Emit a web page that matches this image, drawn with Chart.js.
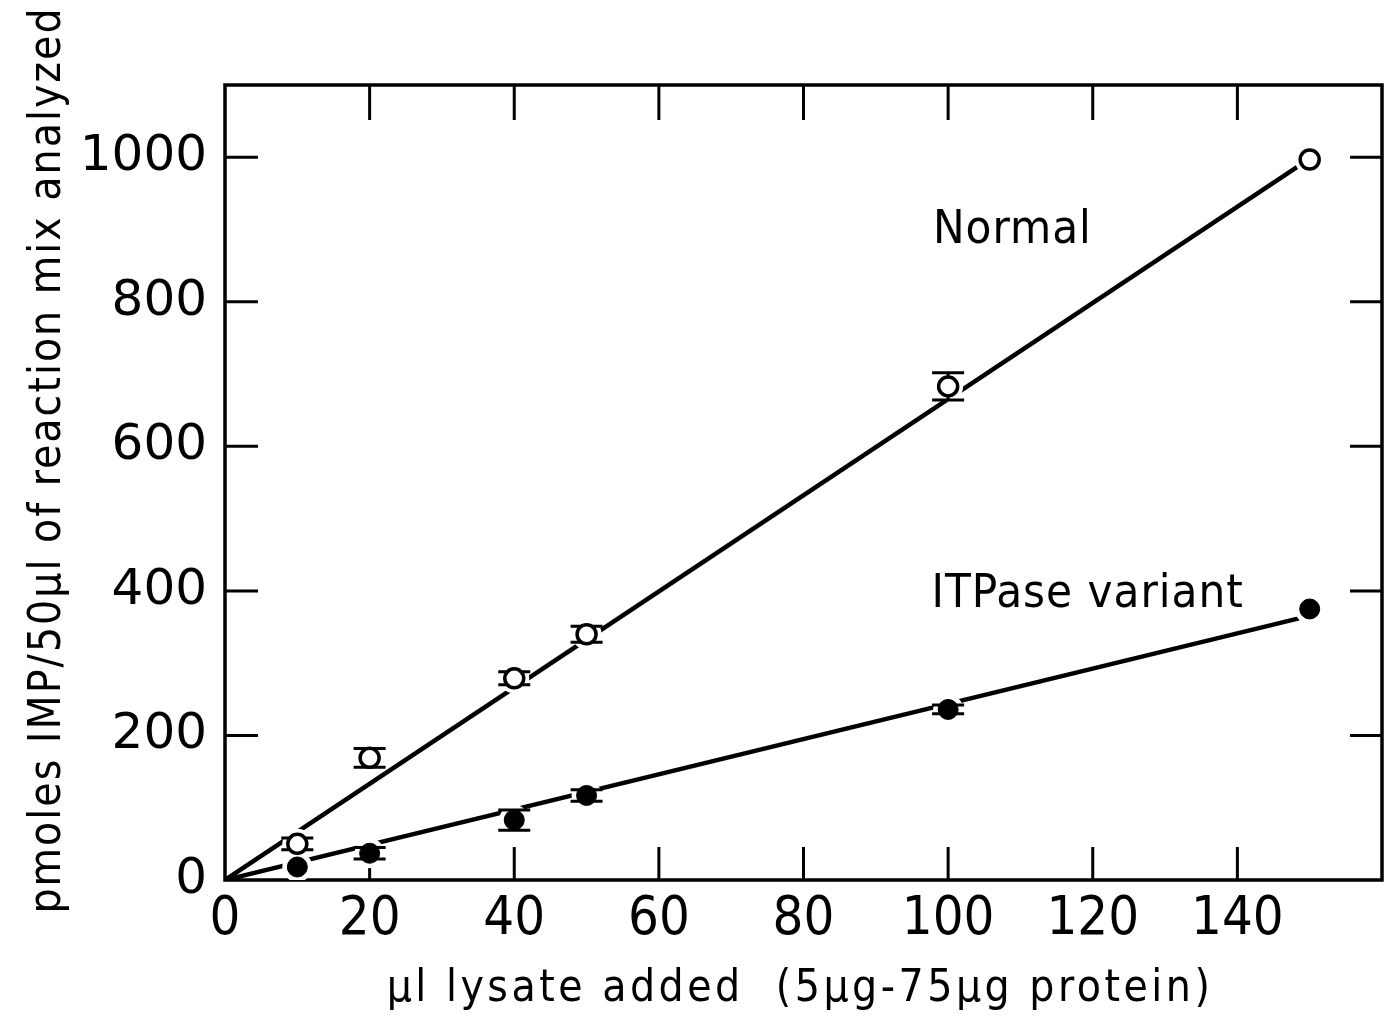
<!DOCTYPE html>
<html lang="en">
<head>
  <meta charset="UTF-8">
  <title>IMP formation vs lysate added</title>
  <script src="https://cdn.jsdelivr.net/npm/chart.js"></script>
  <style>
    html, body { margin: 0; padding: 0; background: #fff; }
    #wrap { width: 1387px; height: 1021px; }
  </style>
</head>
<body>
  <div id="wrap"><canvas id="grafico" width="1387" height="1021"></canvas></div>

  <script>
    // values
    const lysate = [10, 20, 40, 50, 100, 150];
    const normal = [50, 169, 279, 340, 683, 997];
    const normalErr = [8, 13, 9, 11, 19, 0];
    const variant = [18, 37, 83, 117, 236, 375];
    const variantErr = [0, 8, 14, 8, 6, 0];

    // fitted lines (end points)
    const normalFitX = [0, 148.5];
    const normalFitY = [0, 988];
    const variantFitX = [0, 148.5];
    const variantFitY = [0, 362];

    const xTicks = [20, 40, 60, 80, 100, 120, 140];
    const yTicks = [200, 400, 600, 800, 1000];

    const xTitle = '\u03bcl lysate added  (5\u03bcg-75\u03bcg protein)';
    const yTitle = 'pmoles IMP/50\u03bcl of reaction mix analyzed';

    const condensed = '"DejaVu Sans Condensed", "Liberation Sans Narrow", "DejaVu Sans", sans-serif';
    const pts = (xs, ys) => xs.map((x, i) => ({ x: x, y: ys[i] }));

    // frame + inward ticks, drawn before the data so marker halos can cover them
    const frameTicks = {
      id: 'frameTicks',
      beforeDatasetsDraw(chart) {
        const { ctx, chartArea: a, scales: { x, y } } = chart;
        ctx.save();
        ctx.strokeStyle = '#000';
        ctx.lineWidth = 3;
        ctx.beginPath();
        xTicks.forEach(v => {
          const px = x.getPixelForValue(v);
          ctx.moveTo(px, a.bottom); ctx.lineTo(px, a.bottom - 33);
          ctx.moveTo(px, a.top); ctx.lineTo(px, a.top + 35);
        });
        yTicks.forEach(v => {
          const py = y.getPixelForValue(v);
          ctx.moveTo(a.left, py); ctx.lineTo(a.left + 33, py);
          ctx.moveTo(a.right, py); ctx.lineTo(a.right - 32, py);
        });
        ctx.stroke();
        ctx.lineWidth = 3.5;
        ctx.strokeRect(a.left, a.top, a.right - a.left, a.bottom - a.top);
        ctx.restore();
      }
    };

    // error bars drawn right after each halo dataset, under the markers
    const errorBars = {
      id: 'errorBars',
      afterDatasetDraw(chart, args) {
        const ds = chart.data.datasets[args.index];
        if (!ds.errors) return;
        const { ctx, scales: { x, y } } = chart;
        ctx.save();
        ctx.strokeStyle = '#000';
        ctx.lineWidth = 3;
        ds.data.forEach((p, i) => {
          const e = ds.errors[i];
          if (!e) return;
          const px = x.getPixelForValue(p.x);
          const hi = y.getPixelForValue(p.y + e);
          const lo = y.getPixelForValue(p.y - e);
          ctx.beginPath();
          ctx.moveTo(px, hi); ctx.lineTo(px, lo);
          ctx.moveTo(px - 16, hi); ctx.lineTo(px + 16, hi);
          ctx.moveTo(px - 16, lo); ctx.lineTo(px + 16, lo);
          ctx.stroke();
        });
        ctx.restore();
      }
    };

    // curve labels and the two axis titles (spaced out like the original lettering)
    const labels = {
      id: 'labels',
      afterDraw(chart) {
        const { ctx, scales: { x, y } } = chart;
        ctx.save();
        ctx.fillStyle = '#000';
        ctx.font = '47px ' + condensed;
        ctx.letterSpacing = '1px';
        ctx.textBaseline = 'alphabetic';
        ctx.fillText('Normal', x.getPixelForValue(97.9), y.getPixelForValue(882));
        ctx.fillText('ITPase variant', x.getPixelForValue(97.7), y.getPixelForValue(378));

        ctx.textAlign = 'center';
        ctx.textBaseline = 'middle';
        ctx.font = '44px ' + condensed;
        ctx.letterSpacing = '3.5px';
        ctx.fillText(xTitle, 800, 990);

        ctx.letterSpacing = '2px';
        ctx.translate(49, 460);
        ctx.rotate(-Math.PI / 2);
        ctx.fillText(yTitle, 0, 0);
        ctx.restore();
      }
    };

    const ctx = document.getElementById('grafico').getContext('2d');
    new Chart(ctx, {
      type: 'scatter',
      data: {
        datasets: [
          { label: 'Normal fit', data: pts(normalFitX, normalFitY), showLine: true,
            borderColor: '#000', borderWidth: 4.5, pointRadius: 0, order: 5 },
          { label: 'Variant fit', data: pts(variantFitX, variantFitY), showLine: true,
            borderColor: '#000', borderWidth: 4.5, pointRadius: 0, order: 5 },
          { label: 'halo n', data: pts(lysate, normal), errors: normalErr, pointRadius: 15,
            pointBackgroundColor: '#fff', pointBorderWidth: 0, order: 4 },
          { label: 'halo v', data: pts(lysate, variant), errors: variantErr, pointRadius: 15,
            pointBackgroundColor: '#fff', pointBorderWidth: 0, order: 3 },
          { label: 'Normal', data: pts(lysate, normal), pointRadius: 9.5, pointBorderWidth: 3.5,
            pointBorderColor: '#000', pointBackgroundColor: '#fff', order: 2 },
          { label: 'ITPase variant', data: pts(lysate, variant), pointRadius: 10, pointBorderWidth: 1,
            pointBorderColor: '#000', pointBackgroundColor: '#000', order: 1 }
        ]
      },
      options: {
        responsive: false,
        animation: false,
        layout: { autoPadding: false, padding: { top: 85, right: 5, left: 0, bottom: 0 } },
        plugins: { legend: { display: false }, tooltip: { enabled: false } },
        scales: {
          x: {
            type: 'linear', min: 0, max: 160,
            afterFit: s => { s.height = 141; s.paddingRight = 0; s.paddingLeft = 0; },
            grid: { display: false, drawTicks: false },
            border: { display: false },
            ticks: {
              stepSize: 20, padding: 8, color: '#000',
              font: { family: condensed, size: 54 },
              callback: v => (v > 140 ? '' : v)
            },
            title: { display: false }
          },
          y: {
            type: 'linear', min: 0, max: 1100,
            afterFit: s => { s.width = 225; },
            grid: { display: false, drawTicks: false },
            border: { display: false },
            ticks: {
              stepSize: 200, padding: 18, color: '#000',
              font: { family: '"DejaVu Sans", sans-serif', size: 50 },
              callback: v => (v % 200 === 0 ? v : '')
            },
            title: { display: false }
          }
        }
      },
      plugins: [frameTicks, errorBars, labels]
    });
  </script>
</body>
</html>
